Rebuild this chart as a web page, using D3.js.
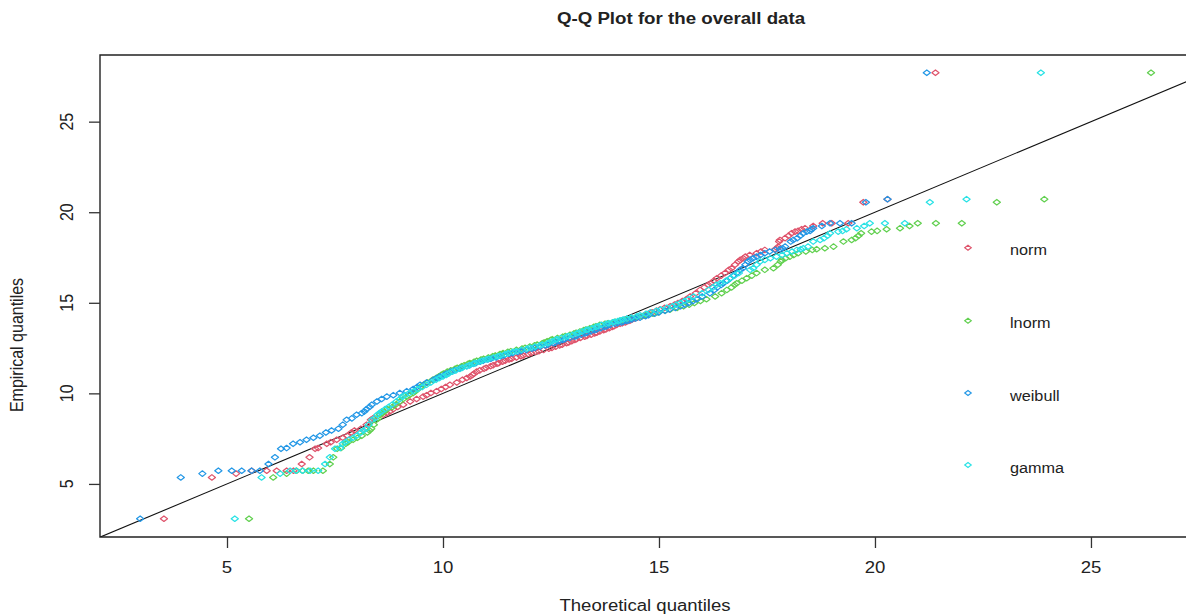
<!DOCTYPE html>
<html>
<head>
<meta charset="utf-8">
<script src="https://cdn.jsdelivr.net/npm/d3@7"></script>
<style>
  body { margin: 0; background: #fff; }
  svg text { font-family: "Liberation Sans", Arial, sans-serif; fill: #222; }
</style>
</head>
<body>
<div id="qqPlot"></div>
<script>
// legend order = drawing order (gamma ends up on top)
const distributions = ['norm', 'lnorm', 'weibull', 'gamma'];
const colors = ['#DF536B', '#61D04F', '#2297E6', '#28E2E5'];
const xTicks = [5, 10, 15, 20, 25];
const yTicks = [5, 10, 15, 20, 25];

// sorted data (empirical quantiles), shared by all four fits
const empirical = [
  3.08, 5.36, 5.57, 5.73, 5.73, 5.73, 5.73, 5.73, 6.10, 6.47, 6.94, 6.98, 7.22, 7.30,
  7.44, 7.55, 7.66, 7.84, 7.95, 8.05, 8.27, 8.54, 8.62, 8.82, 8.91, 9.00, 9.13, 9.25,
  9.37, 9.55, 9.69, 9.82, 9.90, 10.02, 10.12, 10.24, 10.35, 10.47, 10.60, 10.75, 10.85, 10.93,
  11.02, 11.09, 11.2, 11.27, 11.36, 11.41, 11.5, 11.55, 11.63, 11.67, 11.75, 11.8, 11.87, 11.91,
  11.98, 12.05, 12.09, 12.17, 12.22, 12.29, 12.33, 12.4, 12.47, 12.51, 12.58, 12.65, 12.69, 12.77,
  12.81, 12.88, 12.95, 12.99, 13.06, 13.13, 13.17, 13.24, 13.31, 13.35, 13.42, 13.49, 13.53, 13.6,
  13.67, 13.71, 13.78, 13.84, 13.87, 13.92, 13.95, 14.0, 14.03, 14.08, 14.13, 14.18, 14.26, 14.31,
  14.4, 14.47, 14.56, 14.63, 14.72, 14.81, 14.9, 14.99, 15.1, 15.2,
  15.35, 15.53, 15.71, 15.85, 15.99, 16.08, 16.22, 16.36, 16.5, 16.64, 16.82, 16.91, 17.1, 17.28,
  17.37, 17.46, 17.55, 17.64, 17.74, 17.83, 17.92, 17.96, 18.01, 18.1, 18.38, 18.47, 18.57, 18.7,
  18.84, 18.93, 18.97, 19.06, 19.12, 19.24, 19.39, 19.39, 19.39, 20.55, 20.72, 27.7
];

const normQ = [
  3.54, 4.65, 5.21, 5.57, 5.92, 6.15, 6.38, 6.54, 6.73, 6.91, 7.04, 7.11, 7.31, 7.40,
  7.54, 7.68, 7.78, 7.88, 7.95, 8.10, 8.23, 8.33, 8.38, 8.62, 8.70, 8.77, 8.85, 8.95,
  9.08, 9.24, 9.39, 9.54, 9.62, 9.72, 9.85, 9.96, 10.06, 10.16, 10.32, 10.45, 10.55, 10.63,
  10.68, 10.72, 10.78, 10.85, 10.95, 11.0, 11.1, 11.16, 11.25, 11.29, 11.38, 11.44, 11.53, 11.59,
  11.7, 11.8, 11.86, 11.97, 12.04, 12.15, 12.22, 12.33, 12.45, 12.52, 12.61, 12.7, 12.76, 12.86,
  12.91, 12.98, 13.05, 13.09, 13.18, 13.28, 13.33, 13.43, 13.51, 13.56, 13.63, 13.72, 13.77, 13.85,
  13.92, 13.96, 14.02, 14.1, 14.15, 14.22, 14.25, 14.3, 14.34, 14.38, 14.44, 14.5, 14.6, 14.66,
  14.75, 14.84, 14.94, 15.02, 15.13, 15.26, 15.36, 15.44, 15.54, 15.63,
  15.72, 15.85, 15.95, 16.05, 16.14, 16.2, 16.27, 16.34, 16.44, 16.53, 16.62, 16.68, 16.76, 16.84,
  16.88, 16.95, 17.0, 17.1, 17.26, 17.36, 17.45, 17.69, 17.74, 17.76, 17.78, 17.80, 17.92, 18.0,
  18.07, 18.15, 18.22, 18.3, 18.38, 18.57, 18.79, 19.0, 19.38, 19.73, 20.29, 21.4
];
const lnormQ = [
  5.51, 6.07, 6.38, 6.61, 6.75, 6.88, 7.00, 7.22, 7.38, 7.46, 7.55, 7.64, 7.75, 7.80,
  7.92, 8.02, 8.12, 8.25, 8.30, 8.34, 8.40, 8.46, 8.50, 8.54, 8.60, 8.64, 8.71, 8.83,
  8.90, 9.00, 9.08, 9.16, 9.22, 9.31, 9.36, 9.42, 9.48, 9.55, 9.64, 9.76, 9.84, 9.90,
  9.96, 10.01, 10.1, 10.18, 10.28, 10.33, 10.43, 10.49, 10.58, 10.62, 10.72, 10.78, 10.88, 10.94,
  11.05, 11.15, 11.21, 11.32, 11.39, 11.5, 11.57, 11.7, 11.83, 11.9, 12.01, 12.12, 12.18, 12.3,
  12.34, 12.41, 12.49, 12.53, 12.65, 12.77, 12.83, 12.94, 13.03, 13.08, 13.17, 13.26, 13.31, 13.4,
  13.49, 13.54, 13.63, 13.75, 13.82, 13.93, 13.99, 14.09, 14.15, 14.24, 14.35, 14.46, 14.61, 14.7,
  14.86, 14.98, 15.14, 15.26, 15.42, 15.57, 15.7, 15.82, 15.96, 16.1,
  16.3, 16.45, 16.57, 16.68, 16.75, 16.8, 16.92, 17.03, 17.15, 17.26, 17.45, 17.65, 17.75, 17.82,
  17.84, 17.93, 18.03, 18.12, 18.22, 18.4, 18.55, 18.65, 18.84, 19.04, 19.27, 19.46, 19.55, 19.62,
  19.68, 19.92, 20.05, 20.27, 20.58, 20.8, 20.99, 21.41, 22.01, 22.82, 23.92, 26.39
];
const weibullQ = [
  2.99, 3.93, 4.43, 4.80, 5.11, 5.34, 5.57, 5.76, 5.96, 6.11, 6.25, 6.38, 6.53, 6.69,
  6.84, 7.00, 7.15, 7.29, 7.42, 7.58, 7.68, 7.77, 7.89, 8.00, 8.12, 8.18, 8.23, 8.30,
  8.35, 8.47, 8.58, 8.70, 8.85, 9.00, 9.16, 9.31, 9.40, 9.47, 9.62, 9.78, 9.86, 9.93,
  10.03, 10.08, 10.18, 10.27, 10.38, 10.44, 10.55, 10.62, 10.71, 10.76, 10.86, 10.93, 11.04, 11.11,
  11.23, 11.34, 11.41, 11.53, 11.61, 11.73, 11.8, 11.93, 12.06, 12.13, 12.25, 12.37, 12.43, 12.56,
  12.61, 12.69, 12.77, 12.82, 12.93, 13.05, 13.1, 13.2, 13.29, 13.34, 13.42, 13.51, 13.56, 13.65,
  13.74, 13.79, 13.87, 13.98, 14.04, 14.13, 14.17, 14.25, 14.3, 14.37, 14.46, 14.56, 14.69, 14.76,
  14.9, 15.0, 15.14, 15.24, 15.38, 15.5, 15.6, 15.69, 15.79, 15.88,
  16.0, 16.18, 16.28, 16.35, 16.44, 16.49, 16.58, 16.65, 16.72, 16.80, 16.88, 16.94, 17.0, 17.06,
  17.11, 17.18, 17.26, 17.35, 17.45, 17.56, 17.69, 17.8, 17.86, 17.92, 18.05, 18.11, 18.2, 18.27,
  18.34, 18.42, 18.5, 18.53, 18.57, 18.77, 18.96, 19.19, 19.46, 19.79, 20.29, 21.2
];
const gammaQ = [
  5.18, 5.80, 6.23, 6.46, 6.60, 6.75, 6.92, 7.11, 7.27, 7.38, 7.50, 7.62, 7.68, 7.74,
  7.82, 7.92, 8.00, 8.10, 8.16, 8.22, 8.28, 8.36, 8.42, 8.48, 8.53, 8.58, 8.66, 8.74,
  8.82, 8.92, 9.00, 9.06, 9.12, 9.22, 9.32, 9.42, 9.52, 9.62, 9.72, 9.84, 9.92, 10.00,
  10.08, 10.13, 10.22, 10.3, 10.4, 10.45, 10.55, 10.61, 10.7, 10.74, 10.84, 10.9, 11.0, 11.06,
  11.17, 11.27, 11.33, 11.44, 11.51, 11.62, 11.69, 11.82, 11.95, 12.02, 12.13, 12.24, 12.3, 12.42,
  12.46, 12.53, 12.6, 12.64, 12.74, 12.85, 12.9, 13.0, 13.09, 13.14, 13.22, 13.31, 13.36, 13.45,
  13.54, 13.59, 13.67, 13.78, 13.84, 13.93, 13.97, 14.05, 14.1, 14.17, 14.26, 14.36, 14.49, 14.56,
  14.7, 14.8, 14.94, 15.04, 15.18, 15.31, 15.4, 15.49, 15.59, 15.68,
  15.8, 16.0, 16.15, 16.25, 16.33, 16.42, 16.55, 16.65, 16.75, 16.85, 17.11, 17.18, 17.26, 17.34,
  17.45, 17.58, 17.72, 17.85, 17.96, 18.08, 18.19, 18.28, 18.34, 18.45, 18.57, 18.73, 18.82, 18.9,
  18.96, 19.15, 19.25, 19.34, 19.58, 19.75, 19.88, 20.23, 20.69, 21.27, 22.12, 23.84
];
const theoretical = [normQ, lnormQ, weibullQ, gammaQ];

const config = {
  totalWidth: 1186,
  totalHeight: 616,
  plot: { left: 100, top: 55, bottom: 537, right: 1186 },
  stretch: 1.16,        // the reference is a bit wider than tall
  tickSize: 11,
  marker: { w: 3.6, h: 2.8 }
};

const xScale = d3.scaleLinear().domain([2.06, 27.2]).range([config.plot.left, config.plot.right]);
const yScale = d3.scaleLinear().domain([2.07, 28.68]).range([config.plot.bottom, config.plot.top]);

const svg = d3.select('#qqPlot').append('svg')
  .attr('width', config.totalWidth)
  .attr('height', config.totalHeight);

// horizontal text stretch helper
function label(g, x, y, str, size, opts = {}) {
  const s = opts.stretch || config.stretch;
  const rot = opts.rotate ? ' rotate(-90) scale(1,' + s + ')' : ' scale(' + s + ',1)';
  return g.append('text')
    .attr('transform', `translate(${x},${y})` + rot)
    .attr('text-anchor', opts.anchor || 'middle')
    .attr('font-size', size)
    .attr('font-weight', opts.bold ? 'bold' : 'normal')
    .text(str);
}

const diamond = (cx, cy, w, h) => `M${cx - w},${cy}L${cx},${cy - h}L${cx + w},${cy}L${cx},${cy + h}Z`;

// clip to the plotting region
svg.append('defs').append('clipPath').attr('id', 'plotClip')
  .append('rect')
  .attr('x', config.plot.left).attr('y', config.plot.top)
  .attr('width', config.plot.right - config.plot.left)
  .attr('height', config.plot.bottom - config.plot.top);

const plotLayer = svg.append('g').attr('clip-path', 'url(#plotClip)');

// reference line y = x
const refLine = d3.line().x(d => xScale(d)).y(d => yScale(d));
plotLayer.append('path')
  .datum([1, 30])
  .attr('d', refLine)
  .attr('fill', 'none')
  .attr('stroke', '#111')
  .attr('stroke-width', 1.1);

distributions.forEach((name, k) => {
  const xs = theoretical[k];
  const pts = d3.range(Math.min(xs.length, empirical.length)).map(i => ({ x: xs[i], y: empirical[i] }));
  plotLayer.append('g').selectAll('path')
    .data(pts)
    .enter()
    .append('path')
    .attr('d', d => diamond(xScale(d.x), yScale(d.y), config.marker.w, config.marker.h))
    .attr('fill', 'none')
    .attr('stroke', colors[k])
    .attr('stroke-width', 1.2)
    .attr('stroke-linejoin', 'round');
});

// box (right side falls outside the window)
svg.append('path')
  .attr('d', `M${config.plot.right + 20},${config.plot.top}H${config.plot.left}V${config.plot.bottom}H${config.plot.right + 20}`)
  .attr('fill', 'none')
  .attr('stroke', '#222')
  .attr('stroke-width', 1.4);

// axes
const xAxis = svg.append('g')
  .attr('transform', `translate(0,${config.plot.bottom})`)
  .call(d3.axisBottom(xScale).tickValues(xTicks).tickSize(config.tickSize).tickFormat(''));
const yAxis = svg.append('g')
  .attr('transform', `translate(${config.plot.left},0)`)
  .call(d3.axisLeft(yScale).tickValues(yTicks).tickSize(config.tickSize).tickFormat(''));
[xAxis, yAxis].forEach(a => {
  a.select('.domain').remove();
  a.selectAll('line').attr('stroke', '#333').attr('stroke-width', 1.3);
});

xTicks.forEach(t => label(svg, xScale(t), 573, String(t), 16));
yTicks.forEach(t => label(svg, 73, yScale(t), String(t), 16, { rotate: true }));

// titles
label(svg, 681, 24, 'Q-Q Plot for the overall data', 17, { bold: true, stretch: 1.1 });
label(svg, 645, 611, 'Theoretical quantiles', 16);
label(svg, 23, 345, 'Empirical quantiles', 16, { rotate: true });

// legend
const legendY = [247.7, 320.7, 393, 465];
const legend = svg.append('g');
distributions.forEach((name, k) => {
  legend.append('path')
    .attr('d', diamond(968, legendY[k], 3.3, 2.5))
    .attr('fill', 'none')
    .attr('stroke', colors[k])
    .attr('stroke-width', 1.1);
  label(legend, 1010, legendY[k] + 7.5, name, 14, { anchor: 'start' });
});
</script>
</body>
</html>
